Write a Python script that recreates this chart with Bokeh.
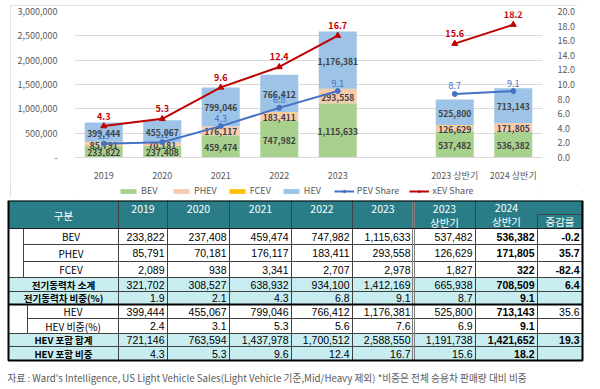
import numpy as np
from bokeh.plotting import figure
from bokeh.models import (ColumnDataSource, FactorRange, Range1d, LinearAxis, FixedTicker,
                          Legend, LegendItem, NumeralTickFormatter, CustomJSTickFormatter)
from bokeh.layouts import column
from bokeh.core.properties import value
from bokeh.embed import file_html
from bokeh.resources import INLINE

# ---------------- data ----------------
categories = ["2019", "2020", "2021", "2022", "2023", "2023 상반기", "2024 상반기"]
bev = [233822, 237408, 459474, 747982, 1115633, 537482, 536382]
phev = [85791, 70181, 176117, 183411, 293558, 126629, 171805]
fcev = [2089, 938, 3341, 2707, 2978, 1827, 322]
hev = [399444, 455067, 799046, 766412, 1176381, 525800, 713143]
pev_share = [1.9, 2.1, 4.3, 6.8, 9.1, 8.7, 9.1]
hev_share = [2.4, 3.1, 5.3, 5.6, 7.6, 6.9, 9.1]
xev_share = [4.3, 5.3, 9.6, 12.4, 16.7, 15.6, 18.2]
growth = [-0.2, 35.7, -82.4, 6.4, None, 35.6, None, 19.3, None]
row_labels = ["BEV", "PHEV", "FCEV", "전기동력차 소계", "전기동력차 비중(%)",
              "HEV", "HEV 비중(%)", "HEV 포함 합계", "HEV 포함 비중"]
left_ticks = [0, 500000, 1000000, 1500000, 2000000, 2500000, 3000000]
right_ticks = [0, 2, 4, 6, 8, 10, 12, 14, 16, 18, 20]
note = "자료 : Ward's Intelligence, US Light Vehicle Sales(Light Vehicle 기준,Mid/Heavy 제외) *비중은 전체 승용차 판매량 대비 비중"

FONT = "Noto Sans CJK KR"
NUMFONT = "Liberation Sans"
GRAY = "#595959"
BLUE = "#4472c4"
RED = "#c00000"

factors = categories[:5] + [" "] + categories[5:]


def gap(vals):
    return list(vals[:5]) + [float("nan")] + list(vals[5:])


def bare(fig):
    fig.axis.visible = False
    fig.grid.visible = False
    fig.outline_line_color = None


# ---------------- chart ----------------
p = figure(width=567, height=179, x_range=FactorRange(*factors, range_padding=0, factor_padding=0),
           y_range=Range1d(0, 3000000), output_backend="svg", toolbar_location=None,
           min_border_left=64, min_border_right=29, min_border_top=6, min_border_bottom=20)
p.extra_y_ranges = {"pct": Range1d(0, 20)}
p.outline_line_color = None
p.xgrid.grid_line_color = None
p.ygrid.grid_line_color = "#d9d9d9"
p.ygrid.ticker = FixedTicker(ticks=left_ticks)

p.yaxis.ticker = FixedTicker(ticks=left_ticks)
p.yaxis.formatter = CustomJSTickFormatter(code="return tick == 0 ? '-' : tick.toLocaleString('en-US');")
ax_r = LinearAxis(y_range_name="pct", ticker=FixedTicker(ticks=right_ticks),
                  formatter=NumeralTickFormatter(format="0.0"))
p.add_layout(ax_r, "right")
for ax in [p.yaxis[0], ax_r, p.xaxis[0]]:
    ax.axis_line_color = None
    ax.major_tick_line_color = None
    ax.minor_tick_line_color = None
    ax.major_label_text_font = FONT
    ax.major_label_text_font_size = "9px"
    ax.major_label_text_color = GRAY
p.yaxis[0].major_label_standoff = 11
ax_r.major_label_standoff = 9
p.xaxis[0].axis_line_color = "#d9d9d9"
p.xaxis[0].major_label_standoff = 5

series = ["BEV", "PHEV", "FCEV", "HEV"]
colors = ["#a9d18e", "#f8cbad", "#ffc000", "#9dc3e6"]
src = ColumnDataSource(dict(cat=categories, BEV=bev, PHEV=phev, FCEV=fcev, HEV=hev))
p.vbar_stack(series, x="cat", width=0.65, fill_color=colors, line_color=None, source=src)

b = np.array(bev, float)
ph = np.array(phev, float)
fc = np.array(fcev, float)
hv = np.array(hev, float)
lab = ColumnDataSource(dict(
    x=categories * 3,
    y=list(b / 2) + list(b + ph / 2) + list(b + ph + fc + hv / 2),
    t=[f"{v:,}" for v in bev + phev + hev]))
p.text(x="x", y="y", text="t", source=lab, text_align="center", text_baseline="middle",
       y_offset=1, text_font=value(FONT), text_font_size="8.5px", text_font_style="bold",
       text_color="#404040")

p.line(factors, gap(pev_share), y_range_name="pct", line_color=BLUE, line_width=2)
p.scatter(factors, gap(pev_share), y_range_name="pct", marker="circle", size=5,
          fill_color=BLUE, line_color=BLUE)
p.line(factors, gap(xev_share), y_range_name="pct", line_color=RED, line_width=2)
p.scatter(factors, gap(xev_share), y_range_name="pct", marker="triangle", size=6,
          fill_color=RED, line_color=RED)
p.text(x=categories, y=pev_share, text=[f"{v:.1f}" for v in pev_share], y_range_name="pct",
       y_offset=-8, text_align="center", text_baseline="middle", text_font=value(FONT),
       text_font_size="9px", text_color=BLUE)
p.text(x=categories, y=xev_share, text=[f"{v:.1f}" for v in xev_share], y_range_name="pct",
       y_offset=-10, text_align="center", text_baseline="middle", text_font=value(FONT),
       text_font_size="9px", text_font_style="bold", text_color=RED)

# ---------------- legend strip (frame aligned with the chart frame) ----------------
lf = figure(width=567, height=14, x_range=Range1d(0, 1), y_range=Range1d(0, 1),
            output_backend="svg", toolbar_location=None,
            min_border_left=0, min_border_right=0, min_border_top=0, min_border_bottom=0)
bare(lf)
items = []
for s, c in zip(series, colors):
    r = lf.vbar(x=[5], top=[5], bottom=[4], width=0.5, fill_color=c, line_color=None)
    items.append(LegendItem(label=s, renderers=[r]))
pl = lf.line(x=[5, 6], y=[5, 6], line_color=BLUE, line_width=2)
ps = lf.scatter(x=[5], y=[5], marker="circle", size=5, fill_color=BLUE, line_color=BLUE)
xl = lf.line(x=[5, 6], y=[5, 6], line_color=RED, line_width=2)
xs = lf.scatter(x=[5], y=[5], marker="triangle", size=6, fill_color=RED, line_color=RED)
items += [LegendItem(label="PEV Share", renderers=[pl, ps]),
          LegendItem(label="xEV Share", renderers=[xl, xs])]
legend = Legend(items=items, orientation="horizontal", location=(44, 1), padding=0, margin=0,
                spacing=10, label_standoff=3, glyph_width=20, glyph_height=6, label_height=10,
                label_text_font=FONT, label_text_font_size="9px", label_text_color=GRAY,
                border_line_color=None, background_fill_alpha=0)
lf.add_layout(legend, "center")

chart = column(p, lf, spacing=0, margin=(5, 0, 2, 10),
               styles={"outline": "1px solid #d9d9d9", "outline-offset": "-1px"})

# ---------------- table ----------------
col_edges = [8, 118, 167, 229, 291, 352, 413, 475, 537, 582]
row_edges = [200, 228, 244, 261, 277, 291, 304, 318, 333, 346, 360]
HEAD = "#2a7d87"
LIGHT = "#c8edf1"
LINE = "#404040"

t = figure(width=600, height=189, x_range=Range1d(0, 600), y_range=Range1d(389, 200),
           output_backend="svg", toolbar_location=None,
           min_border_left=0, min_border_right=0, min_border_top=0, min_border_bottom=0)
bare(t)

subtotal = [int(x) for x in (b + ph + fc)]
total = [int(x) for x in (b + ph + fc + hv)]
f_int = lambda vs: [f"{int(v):,}" for v in vs]
f_pct = lambda vs: [f"{v:.1f}" for v in vs]
table_vals = [f_int(bev), f_int(phev), f_int(fcev), f_int(subtotal), f_pct(pev_share),
              f_int(hev), f_pct(hev_share), f_int(total), f_pct(xev_share)]
shaded = [False, False, False, True, True, False, False, True, True]
bold_label = [False, False, False, True, True, False, False, True, True]
bold_growth = [True, True, True, True, False, False, False, True, False]

# backgrounds
t.quad(left=[col_edges[0]], right=[col_edges[-1]], top=[row_edges[0]], bottom=[row_edges[1]],
       fill_color=HEAD, line_color=None)
t.quad(left=[col_edges[0]] * 9, right=[col_edges[-1]] * 9, top=row_edges[1:-1], bottom=row_edges[2:],
       fill_color=[LIGHT if s else "white" for s in shaded], line_color=None)

# grid lines
x0, y0, x1, y1 = [], [], [], []
indent = {0: 23, 1: 23, 2: 23, 5: 27, 6: 27}
for i in range(2, len(row_edges) - 1):
    above, below = i - 2, i - 1
    if above in indent and below in indent and indent[above] == indent[below]:
        start = indent[below]
    else:
        start = col_edges[0]
    x0.append(start); x1.append(col_edges[-1]); y0.append(row_edges[i]); y1.append(row_edges[i])
for xc in col_edges[1:-1]:
    if xc == 413:
        continue
    top = 214 if xc == 537 else row_edges[0]
    x0.append(xc); x1.append(xc); y0.append(top); y1.append(row_edges[-1])
x0 += [23, 27, 537]; x1 += [23, 27, 582]
y0 += [row_edges[1], row_edges[6], 214]; y1 += [row_edges[4], row_edges[8], 214]
t.segment(x0=x0, y0=y0, x1=x1, y1=y1, line_color=LINE, line_width=1)
t.segment(x0=[412, 414], y0=[row_edges[0]] * 2, x1=[412, 414], y1=[row_edges[-1]] * 2,
          line_color="#7f7f7f", line_width=1)
t.segment(x0=[col_edges[0]], y0=[row_edges[1]], x1=[col_edges[-1]], y1=[row_edges[1]],
          line_color="#1e1e1e", line_width=1)
t.segment(x0=[col_edges[0]], y0=[row_edges[6]], x1=[col_edges[-1]], y1=[row_edges[6]],
          line_color="black", line_width=2)
t.quad(left=[col_edges[0]], right=[col_edges[-1]], top=[row_edges[0]], bottom=[row_edges[-1]],
       fill_color=None, line_color="black", line_width=2)

# header text
hx = [(col_edges[i] + col_edges[i + 1]) / 2 for i in range(len(col_edges) - 1)]
head_x = [hx[0]] + hx[1:6] + [hx[6], hx[6], hx[7], hx[7], hx[8]]
head_y = [215, 208, 208, 208, 208, 208, 208, 222, 207, 221, 221]
head_t = ["구분"] + categories[:5] + ["2023", "상반기", "2024", "상반기", "증감률"]
t.text(x=head_x, y=head_y, text=head_t, text_align="center", text_baseline="middle",
       text_font=value(FONT), text_font_size="10.5px", text_color="white")

# row labels
row_mid = [(row_edges[i + 1] + row_edges[i + 2]) / 2 for i in range(9)]
lab_x = [(indent.get(i, col_edges[0]) + col_edges[1]) / 2 for i in range(9)]
for bold in (False, True):
    idx = [i for i in range(9) if bold_label[i] == bold]
    t.text(x=[lab_x[i] for i in idx], y=[row_mid[i] for i in idx], text=[row_labels[i] for i in idx],
           text_align="center", text_baseline="middle", text_font=value(FONT),
           text_font_size="9.5px" if bold else "10px",
           text_font_style="bold" if bold else "normal", text_color="black")

# values
vx, vy, vt = [], [], []
bx, by, bt = [], [], []
for r in range(9):
    for c in range(7):
        xr = col_edges[c + 2] - 3
        if c == 6:
            bx.append(xr); by.append(row_mid[r]); bt.append(table_vals[r][c])
        else:
            vx.append(xr); vy.append(row_mid[r]); vt.append(table_vals[r][c])
    if growth[r] is not None:
        (bx if bold_growth[r] else vx).append(col_edges[9] - 3)
        (by if bold_growth[r] else vy).append(row_mid[r])
        (bt if bold_growth[r] else vt).append(f"{growth[r]:.1f}")
t.text(x=vx, y=vy, text=vt, text_align="right", text_baseline="middle", text_font=value(NUMFONT),
       text_font_size="10.5px", text_color="black")
t.text(x=bx, y=by, text=bt, text_align="right", text_baseline="middle", text_font=value(NUMFONT),
       text_font_size="10.5px", text_font_style="bold", text_color="black")

t.text(x=[7], y=[377], text=[note], text_align="left", text_baseline="middle",
       text_font=value(FONT), text_font_size="9.7px", text_color=GRAY)

layout = column(chart, t, spacing=0)
open("out.html", "w").write(file_html(layout, INLINE))
